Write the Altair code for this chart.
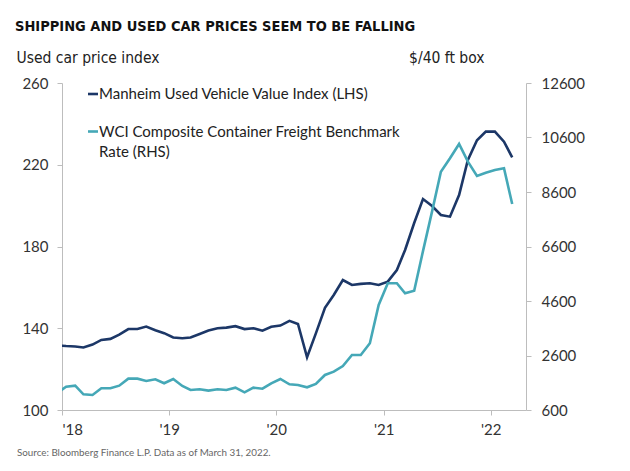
import altair as alt
import pandas as pd

# Monthly observations (plotted mid-month), Dec 2017 .. Mar 2022
months = [d.strftime("%Y-%m-15") for d in pd.date_range("2017-12-01", "2022-03-01", freq="MS")]

manheim = [131.6,
           131.3, 131.1, 130.6, 132.0, 134.3, 134.8, 136.9, 139.6, 139.6, 140.8, 139.0, 137.6,
           135.5, 135.1, 135.5, 137.2, 138.9, 140.0, 140.3, 141.0, 139.6, 140.0, 138.8, 140.7,
           141.3, 143.6, 142.1, 125.8, 137.5, 150.0, 156.3, 163.6, 161.2, 161.7, 162.0, 161.2,
           162.8, 168.5, 178.3, 191.5, 203.2, 199.8, 195.4, 194.6, 205.2, 222.3, 232.0, 236.2,
           236.2, 231.3, 223.6]

wci = [1210,
       1455, 1492, 1176, 1150, 1396, 1396, 1492, 1750, 1750, 1664, 1727, 1580,
       1738, 1481, 1334, 1360, 1310, 1360, 1334, 1419, 1250, 1419, 1382, 1580,
       1738, 1543, 1517, 1433, 1554, 1885, 2006, 2215, 2619, 2619, 3048, 4454,
       5250, 5250, 4883, 4978, 6430, 7890, 9346, 9837, 10362, 9713, 9188, 9309,
       9408, 9470, 8160]

left_ticks = [100, 140, 180, 220, 260]
right_ticks = [600, 2600, 4600, 6600, 8600, 10600, 12600]
year_ticks = ["2018-01-01", "2019-01-01", "2020-01-01", "2021-01-01", "2022-01-01"]

title_text = "SHIPPING AND USED CAR PRICES SEEM TO BE FALLING"
left_title = "Used car price index"
right_title = "$/40 ft box"
legend1 = "Manheim Used Vehicle Value Index (LHS)"
legend2 = ["WCI Composite Container Freight Benchmark", "Rate (RHS)"]
source_text = "Source: Bloomberg Finance L.P. Data as of March 31, 2022."

NAVY = "#1c3767"
TEAL = "#45a8b7"
AXIS = "#bdbdbd"
LABEL = "#333333"
FONT = "Lato"
TFONT = "'DejaVu Sans Condensed', Lato, sans-serif"

df = pd.DataFrame({"date": months, "manheim": manheim, "wci": wci})
base = alt.Chart(df)

xenc = alt.X("date:T",
             scale=alt.Scale(domain=["2018-01-01", "2022-05-01"]),
             axis=alt.Axis(values=year_ticks, labelExpr="\"'\" + timeFormat(datum.value, '%y')",
                           title=None, grid=False, domainColor=AXIS, tickColor=AXIS, tickSize=5,
                           labelPadding=7, labelFontSize=15, labelColor=LABEL, labelFont=FONT))

line1 = base.mark_line(color=NAVY, strokeWidth=2.6, clip=True).encode(
    x=xenc,
    y=alt.Y("manheim:Q", scale=alt.Scale(domain=[100, 260]),
            axis=alt.Axis(values=left_ticks, orient="left", grid=False, domainColor=AXIS,
                          tickColor=AXIS, tickSize=5, labelPadding=9, labelFontSize=15,
                          labelColor=LABEL, labelFont=FONT,
                          title=left_title, titleAngle=0, titleAlign="left", titleBaseline="alphabetic",
                          titleX=-46, titleY=-21, titleFont=TFONT, titleFontSize=15.5,
                          titleFontWeight="normal", titleColor="#222222")),
)

line2 = base.mark_line(color=TEAL, strokeWidth=2.6, clip=True).encode(
    x=xenc,
    y=alt.Y("wci:Q", scale=alt.Scale(domain=[600, 12600]),
            axis=alt.Axis(values=right_ticks, format="d", orient="right", grid=False,
                          domainColor=AXIS, tickColor=AXIS, tickSize=5, labelPadding=10,
                          labelFontSize=15, labelColor=LABEL, labelFont=FONT,
                          title=right_title, titleAngle=0, titleAlign="right", titleBaseline="alphabetic",
                          titleX=-42, titleY=-21, titleFont=TFONT, titleFontSize=15.5,
                          titleFontWeight="normal", titleColor="#222222")),
)

one = alt.Chart(alt.Data(values=[{"k": 1}]))

title_mark = one.mark_text(text=title_text, font=TFONT, fontSize=14.5, fontWeight="bold",
                           align="left", baseline="alphabetic", color="#111111").encode(
    x=alt.value(-47), y=alt.value(-52))

source_mark = one.mark_text(text=source_text, font=FONT, fontSize=9.8, align="left",
                            baseline="alphabetic", color="#666666").encode(
    x=alt.value(-45), y=alt.value(373))

leg_rule1 = one.mark_rule(color=NAVY, strokeWidth=2.6).encode(
    x=alt.value(26), x2=alt.value(36), y=alt.value(11))
leg_rule2 = one.mark_rule(color=TEAL, strokeWidth=2.6).encode(
    x=alt.value(26), x2=alt.value(36), y=alt.value(48.5))
leg_text1 = one.mark_text(text=legend1, font=FONT, fontSize=15, align="left",
                          baseline="alphabetic", color="#222222").encode(
    x=alt.value(37), y=alt.value(16))
leg_text2 = one.mark_text(text=legend2, font=FONT, fontSize=15, align="left",
                          baseline="alphabetic", lineHeight=20, color="#222222").encode(
    x=alt.value(37), y=alt.value(54))

chart = alt.layer(line1, line2, title_mark, source_mark, leg_rule1, leg_rule2,
                  leg_text1, leg_text2).resolve_scale(y="independent").properties(
    width=464, height=327,
    autosize=alt.AutoSizeParams(type="none"),
    padding={"left": 54, "top": 75, "right": 96, "bottom": 53},
    background="white",
).configure_view(stroke=None)

chart.save("out.html", embed_options={"renderer": "svg", "actions": False})
